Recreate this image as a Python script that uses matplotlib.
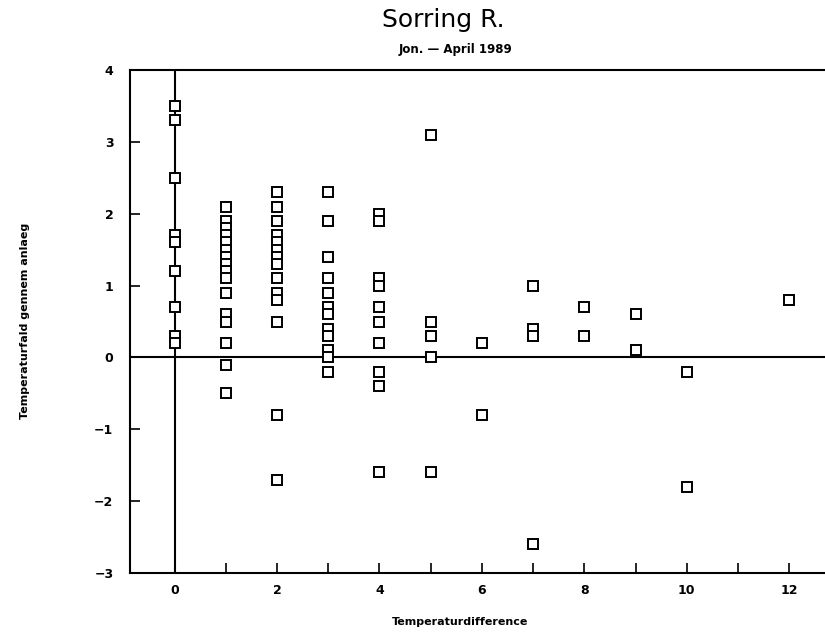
import matplotlib
matplotlib.use("Agg")
import matplotlib.pyplot as plt

# Data
x0 = [0] * 9
y0 = [3.5, 3.3, 2.5, 1.7, 1.6, 1.2, 0.7, 0.3, 0.2]
x1 = [1] * 16
y1 = [2.1, 1.9, 1.8, 1.7, 1.6, 1.5, 1.4, 1.3, 1.2, 1.1, 0.9, 0.6, 0.5, 0.2, -0.1, -0.5]
x2 = [2] * 14
y2 = [2.3, 2.1, 1.9, 1.7, 1.6, 1.5, 1.4, 1.3, 1.1, 0.9, 0.8, 0.5, -0.8, -1.7]
x3 = [3] * 12
y3 = [2.3, 1.9, 1.4, 1.1, 0.9, 0.7, 0.6, 0.4, 0.3, 0.1, 0.0, -0.2]
x4 = [4] * 10
y4 = [2.0, 1.9, 1.1, 1.0, 0.7, 0.5, 0.2, -0.2, -0.4, -1.6]
x5 = [5] * 5
y5 = [3.1, 0.5, 0.3, 0.0, -1.6]
x6 = [6] * 2
y6 = [0.2, -0.8]
x7 = [7] * 4
y7 = [1.0, 0.4, 0.3, -2.6]
x8 = [8] * 2
y8 = [0.7, 0.3]
x9 = [9] * 2
y9 = [0.6, 0.1]
x10 = [10] * 2
y10 = [-0.2, -1.8]
x12 = [12]
y12 = [0.8]

xs = x0 + x1 + x2 + x3 + x4 + x5 + x6 + x7 + x8 + x9 + x10 + x12
ys = y0 + y1 + y2 + y3 + y4 + y5 + y6 + y7 + y8 + y9 + y10 + y12

title = "Sorring R."
subtitle = "Jon. \u2014 April 1989"
xlabel = "Temperaturdifference"
ylabel = "Temperaturfald gennem anlaeg"
xtick_major = [0, 2, 4, 6, 8, 10, 12]
xtick_minor = [1, 3, 5, 7, 9, 11]
ytick_vals = [-3, -2, -1, 0, 1, 2, 3, 4]

fig = plt.figure(figsize=(8.25, 6.32), dpi=100)
ax = fig.add_axes([130 / 825, 1 - 573 / 632, 1 - 130 / 825, (573 - 70) / 632])

ax.plot(xs, ys, linestyle="none", marker="s", markersize=6.5,
        markerfacecolor="white", markeredgecolor="black", markeredgewidth=1.4, zorder=3)

ax.axhline(0, color="black", lw=1.5, zorder=2)
ax.axvline(0, color="black", lw=1.5, zorder=2)

ax.set_xlim(-0.87, 12.7)
ax.set_ylim(-3, 4)

ax.set_xticks(xtick_major)
ax.set_xticks(xtick_minor, minor=True)
ax.set_yticks(ytick_vals)
ax.tick_params(axis="both", which="both", direction="in", length=7, width=1.2,
               labelsize=9, colors="black")
ax.tick_params(axis="x", pad=8)
ax.tick_params(axis="y", pad=12)
ax.set_xticklabels([str(v) for v in xtick_major])
ax.set_yticklabels([("\u2212" + str(-v)) if v < 0 else str(v) for v in ytick_vals])
for lab in ax.get_xticklabels() + ax.get_yticklabels():
    lab.set_fontweight("bold")

ax.spines["right"].set_visible(False)
for s in ["left", "top", "bottom"]:
    ax.spines[s].set_linewidth(1.5)

fig.text(443 / 825, 1 - 20 / 632, title, ha="center", va="center", fontsize=18,
         fontweight="normal", family="DejaVu Sans", color="black")
fig.text(455 / 825, 1 - 50 / 632, subtitle, ha="center", va="center", fontsize=8.5,
         fontweight="bold")
fig.text(460 / 825, 1 - 622 / 632, xlabel, ha="center", va="center", fontsize=8,
         fontweight="bold")
fig.text(25 / 825, 1 - 321 / 632, ylabel, ha="center", va="center", fontsize=8,
         fontweight="bold", rotation=90)

fig.savefig("out.png", dpi=100)
